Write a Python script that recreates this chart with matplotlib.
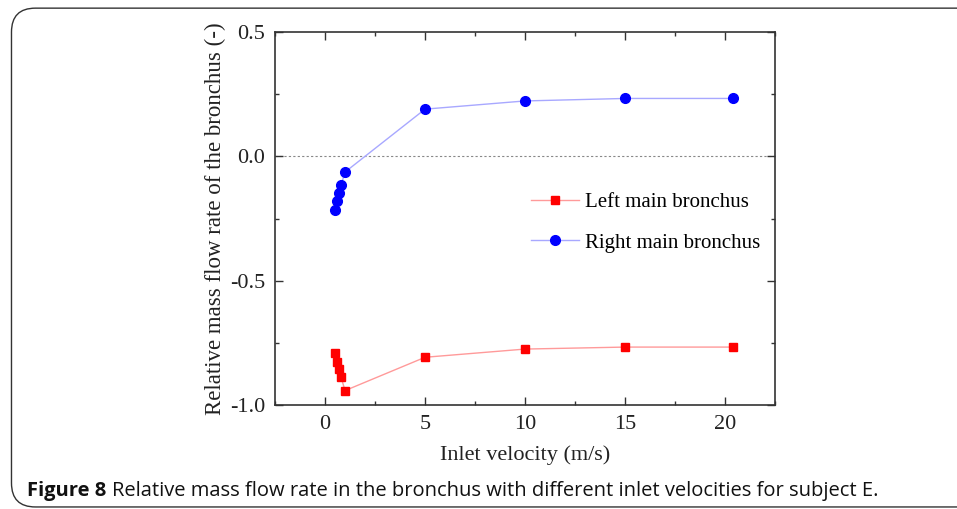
import matplotlib.pyplot as plt
from matplotlib.patches import FancyBboxPatch
from matplotlib.ticker import MultipleLocator

# inlet velocity (m/s)
velocity = [0.5, 0.6, 0.7, 0.8, 1.0, 5, 10, 15, 20.4]
# relative mass flow rate
left_main = [-0.789, -0.825, -0.856, -0.888, -0.942, -0.808, -0.775, -0.767, -0.767]
right_main = [-0.215, -0.180, -0.146, -0.116, -0.063, 0.190, 0.223, 0.233, 0.233]

x_ticks = [0, 5, 10, 15, 20]
y_ticks = [-1.0, -0.5, 0.0, 0.5]

serif = 'Liberation Serif'

fig = plt.figure(figsize=(9.57, 5.09), dpi=100)
ax = fig.add_axes([0.2874, 0.2043, 0.5225, 0.7327])

# rounded frame round the figure
frame = FancyBboxPatch((0.012, 0.004), 1.2, 0.98, transform=fig.transFigure,
                       boxstyle='round,pad=0,rounding_size=0.025', fill=False,
                       edgecolor='#333333', linewidth=1.0, mutation_aspect=957 / 509)
fig.patches.append(frame)

ax.axhline(0, color='#888888', linestyle=(0, (2, 2)), linewidth=0.8, zorder=1)

ax.plot(velocity, left_main, color='#ff9a9a', linewidth=1.0, marker='s',
        markersize=6, markerfacecolor='#ff0000', markeredgecolor='#ff0000',
        label='Left main bronchus', zorder=3)
ax.plot(velocity, right_main, color='#a8a8ff', linewidth=1.0, marker='o',
        markersize=7, markerfacecolor='#0000ff', markeredgecolor='#0000ff',
        label='Right main bronchus', zorder=3)

ax.set_xlim(-2.5, 22.5)
ax.set_ylim(-1.0, 0.5)
ax.set_xticks(x_ticks)
ax.set_yticks(y_ticks)
ax.set_yticklabels(['%.1f' % v for v in y_ticks])
ax.xaxis.set_minor_locator(MultipleLocator(2.5))
ax.yaxis.set_minor_locator(MultipleLocator(0.25))
ax.tick_params(which='both', direction='in', top=True, right=True,
               color='#333333', width=1.0)
ax.tick_params(which='major', length=6, labelsize=16, pad=7)
ax.tick_params(which='minor', length=3)
for lab in ax.get_xticklabels() + ax.get_yticklabels():
    lab.set_fontfamily(serif)
    lab.set_color('#222222')
for sp in ax.spines.values():
    sp.set_color('#333333')
    sp.set_linewidth(1.2)

ax.set_xlabel('Inlet velocity (m/s)', fontsize=16, fontfamily=serif,
              color='#222222', labelpad=8)
ax.set_ylabel('Relative mass flow rate of the bronchus (-)', fontsize=16.5,
              fontfamily=serif, color='#222222', labelpad=3)

ax.legend(loc='upper left', bbox_to_anchor=(0.475, 0.62), frameon=False,
          prop={'family': serif, 'size': 15}, handlelength=2.3,
          labelspacing=1.0, handletextpad=0.3)

cap1 = fig.text(0.028, 0.025, 'Figure 8', fontsize=14.5, fontweight='bold',
                fontfamily='Open Sans', color='#111111')
renderer = fig.canvas.get_renderer()
bb = cap1.get_window_extent(renderer).transformed(fig.transFigure.inverted())
fig.text(bb.x1 + 0.006, 0.025,
         'Relative mass flow rate in the bronchus with different inlet velocities for subject E.',
         fontsize=14.5, fontfamily='Open Sans', color='#111111')

fig.savefig('out.png', dpi=100)
